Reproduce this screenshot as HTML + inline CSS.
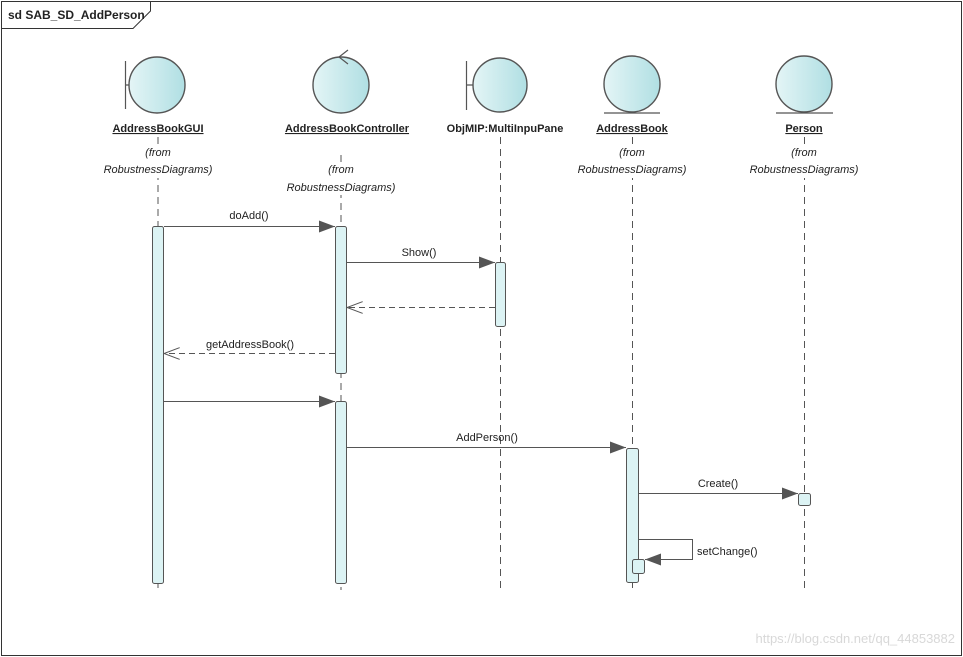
<!DOCTYPE html>
<html><head><meta charset="utf-8"><style>body{margin:0;background:#fff}svg{display:block}text{font-family:"Liberation Sans",sans-serif;font-size:11px;fill:#222}</style></head><body>
<svg width="963" height="657" viewBox="0 0 963 657">
<defs>
<linearGradient id="g" x1="0" x2="1"><stop offset="0" stop-color="#e4f5f6"/><stop offset="1" stop-color="#b0dfe3"/></linearGradient>
<marker id="fa" markerWidth="16" markerHeight="12" refX="16" refY="6" orient="auto" markerUnits="userSpaceOnUse"><path d="M0,0 L16,6 L0,12z" fill="#555"/></marker>
<marker id="oa" markerWidth="16" markerHeight="12" refX="16" refY="6" orient="auto" markerUnits="userSpaceOnUse"><path d="M0,0 L16,6 L0,12" fill="none" stroke="#555"/></marker>
</defs>
<rect x="1.5" y="1.5" width="960" height="654" fill="#fff" stroke="#333"/>
<path d="M1.5,28.5 H133 L150.5,11 V1.5" fill="none" stroke="#333"/>
<text x="8" y="19" style="font-weight:bold;font-size:12px">sd SAB_SD_AddPerson</text>
<g stroke="#555" stroke-dasharray="7,5" fill="none">
<line x1="158" y1="137" x2="158" y2="590"/><line x1="341" y1="155" x2="341" y2="590"/><line x1="500.5" y1="137" x2="500.5" y2="590"/><line x1="632.5" y1="137" x2="632.5" y2="590"/><line x1="804.5" y1="137" x2="804.5" y2="590"/>
</g>
<g fill="#fff">
<rect x="100" y="145" width="116" height="33"/><rect x="283" y="162" width="116" height="33"/>
<rect x="574" y="145" width="116" height="33"/><rect x="746" y="145" width="116" height="33"/>
</g>
<g stroke="#555" fill="url(#g)" stroke-width="1.4">
<circle cx="157" cy="85" r="28"/><circle cx="341" cy="85" r="28"/><circle cx="500" cy="85" r="27"/><circle cx="632" cy="84" r="28"/><circle cx="804" cy="84" r="28"/>
</g>
<g stroke="#555" fill="none" stroke-width="1.2">
<path d="M125.5,61 V109 M125.5,85 H129"/><path d="M466.5,61 V110 M466.5,85 H473"/>
<path d="M604,113 H660 M776,113 H833"/><path d="M348,50 L339,57 L348,64"/>
</g>
<g text-anchor="middle">
<text x="158" y="132" style="font-weight:bold;text-decoration:underline">AddressBookGUI</text>
<text x="347" y="132" style="font-weight:bold;text-decoration:underline">AddressBookController</text>
<text x="505" y="132" style="font-weight:bold">ObjMIP:MultiInpuPane</text>
<text x="632" y="132" style="font-weight:bold;text-decoration:underline">AddressBook</text>
<text x="804" y="132" style="font-weight:bold;text-decoration:underline">Person</text>
<g style="font-style:italic">
<text x="158" y="156">(from</text><text x="158" y="173">RobustnessDiagrams)</text>
<text x="341" y="173">(from</text><text x="341" y="191">RobustnessDiagrams)</text>
<text x="632" y="156">(from</text><text x="632" y="173">RobustnessDiagrams)</text>
<text x="804" y="156">(from</text><text x="804" y="173">RobustnessDiagrams)</text>
</g></g>
<g fill="#dcf3f4" stroke="#555">
<rect x="152.5" y="226.5" width="11" height="357" rx="2"/>
<rect x="335.5" y="226.5" width="11" height="147" rx="2"/>
<rect x="335.5" y="401.5" width="11" height="182" rx="2"/>
<rect x="495.5" y="262.5" width="10" height="64" rx="2"/>
<rect x="626.5" y="448.5" width="12" height="134" rx="2"/>
<rect x="798.5" y="493.5" width="12" height="12" rx="2"/>
<rect x="632.5" y="559.5" width="12" height="14" rx="2"/>
</g>
<g stroke="#555" fill="none">
<line x1="164" y1="226.5" x2="335" y2="226.5" marker-end="url(#fa)"/>
<line x1="347" y1="262.5" x2="495" y2="262.5" marker-end="url(#fa)"/>
<line x1="495" y1="307.5" x2="347" y2="307.5" stroke-dasharray="6,4" marker-end="url(#oa)"/>
<line x1="335" y1="353.5" x2="164" y2="353.5" stroke-dasharray="6,4" marker-end="url(#oa)"/>
<line x1="164" y1="401.5" x2="335" y2="401.5" marker-end="url(#fa)"/>
<line x1="347" y1="447.5" x2="626" y2="447.5" marker-end="url(#fa)"/>
<line x1="639" y1="493.5" x2="798" y2="493.5" marker-end="url(#fa)"/>
<path d="M639,539.5 H692.5 V559.5 H645" marker-end="url(#fa)"/>
</g>
<g text-anchor="middle">
<text x="249" y="219">doAdd()</text><text x="419" y="256">Show()</text><text x="250" y="348">getAddressBook()</text>
<text x="487" y="441">AddPerson()</text><text x="718" y="487">Create()</text>
</g>
<text x="697" y="555">setChange()</text>
<text x="955" y="643" text-anchor="end" style="font-size:13px;fill:#d8d8d8">https://blog.csdn.net/qq_44853882</text>
</svg>
</body></html>
